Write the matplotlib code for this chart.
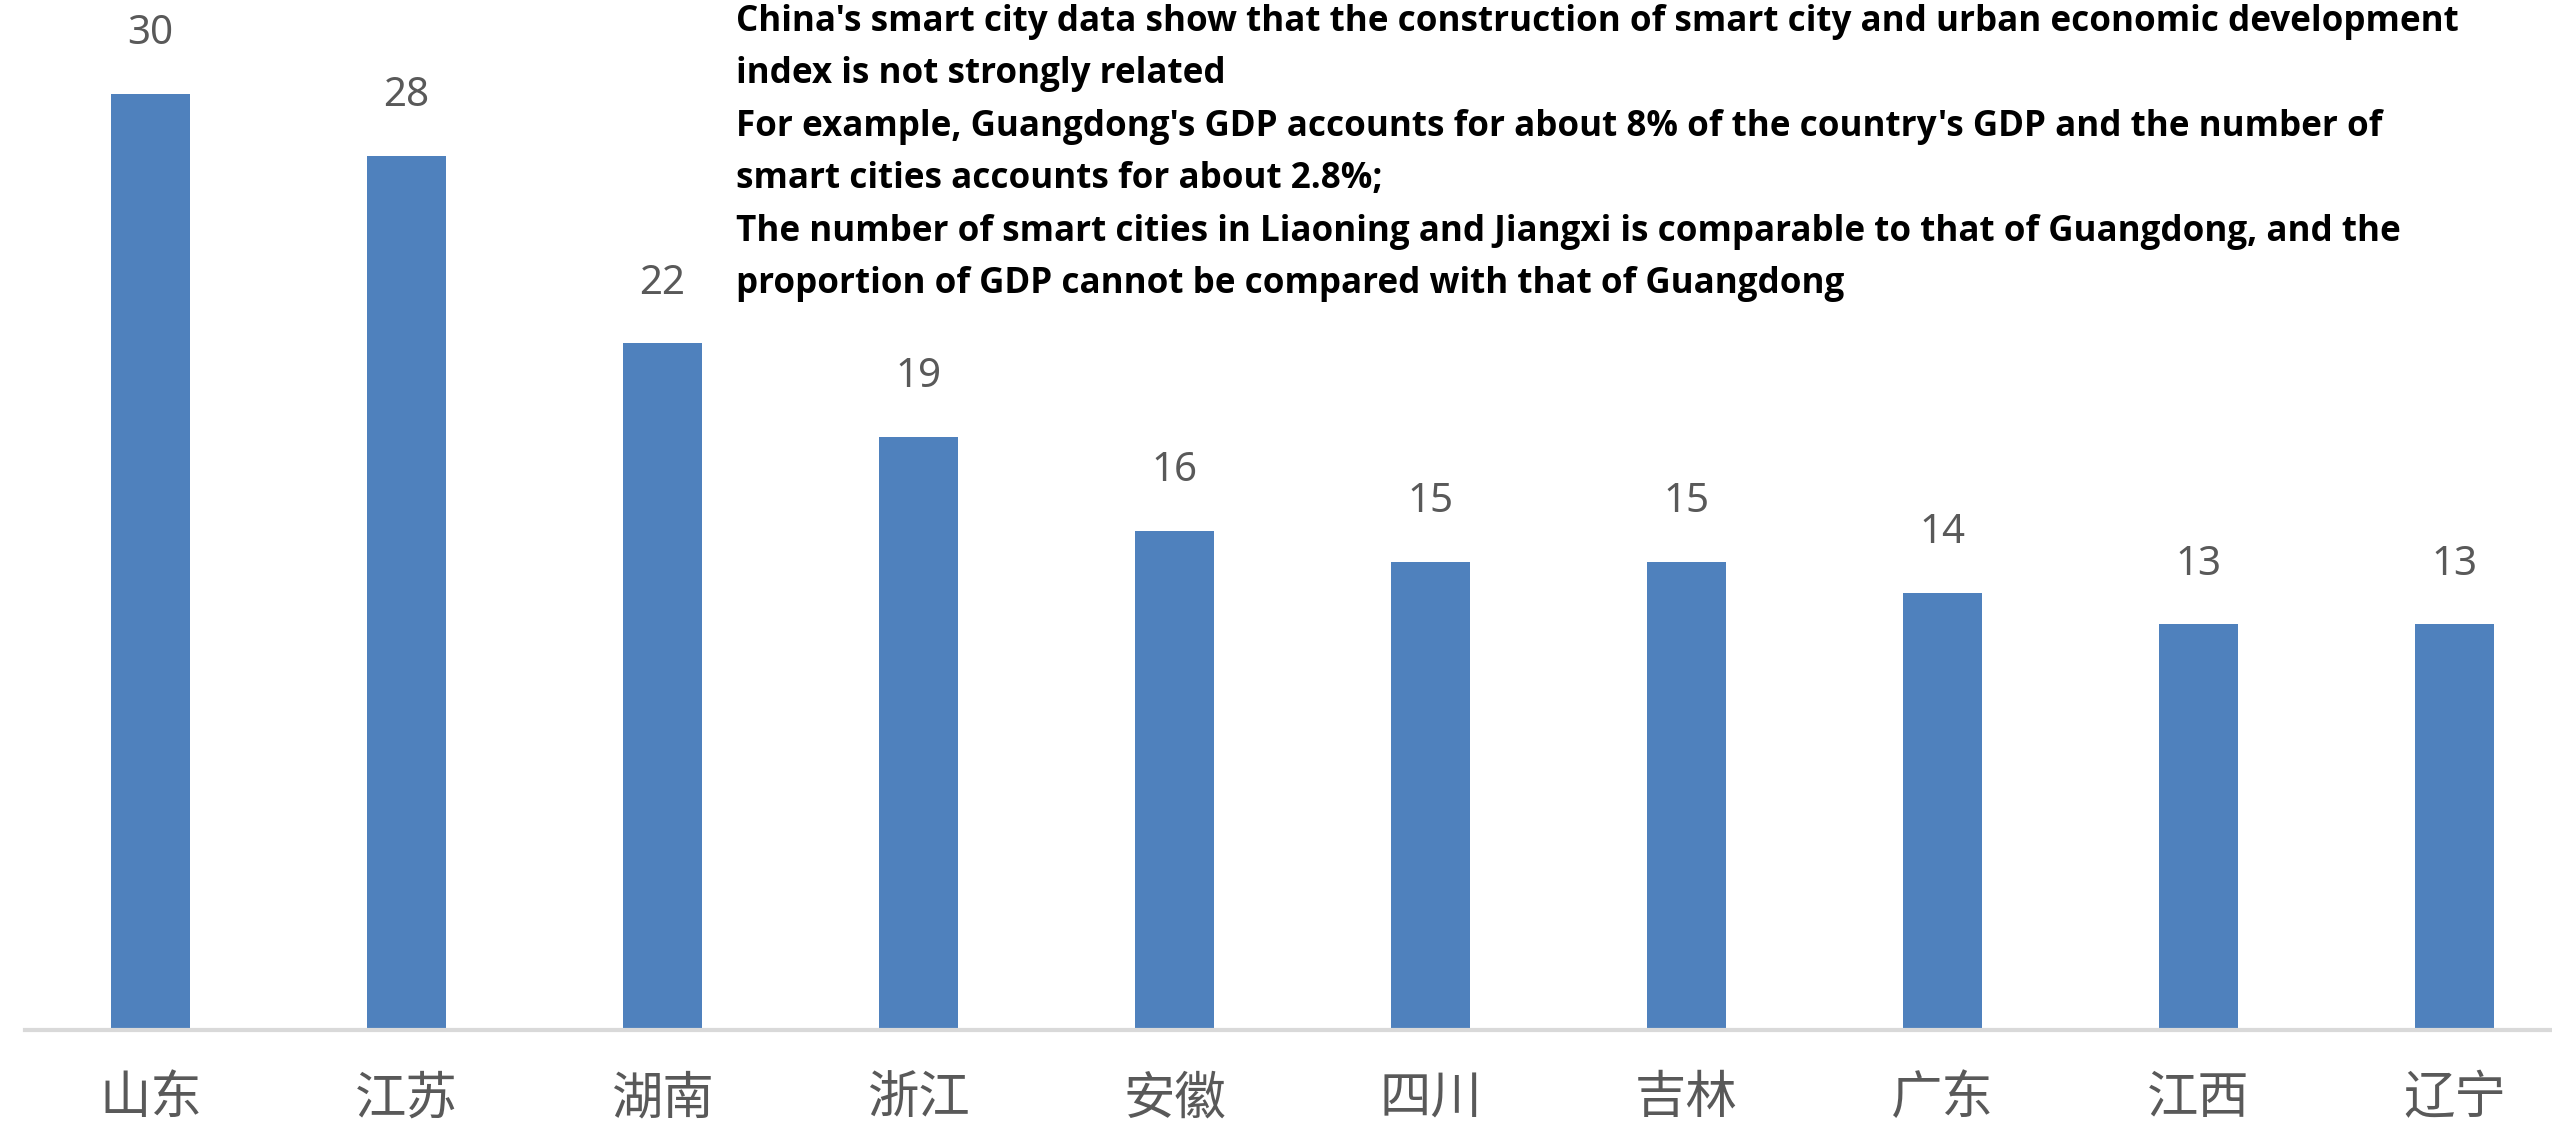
import matplotlib
matplotlib.use("Agg")
import matplotlib.pyplot as plt

provinces = ["山东", "江苏", "湖南", "浙江", "安徽", "四川", "吉林", "广东", "江西", "辽宁"]
counts = [30, 28, 22, 19, 16, 15, 15, 14, 13, 13]

note_lines = [
    "China's smart city data show that the construction of smart city and urban economic development",
    "index is not strongly related",
    "For example, Guangdong's GDP accounts for about 8% of the country's GDP and the number of",
    "smart cities accounts for about 2.8%;",
    "The number of smart cities in Liaoning and Jiangxi is comparable to that of Guangdong, and the",
    "proportion of GDP cannot be compared with that of Guangdong",
]

W, H = 2552, 1125
fig = plt.figure(figsize=(W / 100, H / 100), dpi=100)
ax = fig.add_axes([25 / W, 95 / H, (W - 25) / W, 1030 / H])

x = list(range(len(provinces)))
ax.bar(x, counts, width=0.31, color="#4f81bd", zorder=2)
ax.set_xlim(-0.49, 9.38)
ax.set_ylim(0, 33.0)

for xi, v in zip(x, counts):
    ax.annotate(str(v), (xi, v), xytext=(0, 43), textcoords="offset points",
                ha="center", va="center", fontsize=29, color="#595959",
                family="Noto Sans")

ax.set_xticks(x)
ax.set_xticklabels(provinces, family=["Noto Sans CJK SC", "DejaVu Sans"],
                   fontsize=37, color="#595959")
ax.tick_params(axis="x", length=0, pad=30)
ax.set_yticks([])
for s in ["top", "right", "left"]:
    ax.spines[s].set_visible(False)
ax.spines["bottom"].set_color("#d9d9d9")
ax.spines["bottom"].set_linewidth(3)

fig.text(736 / W, 1 - 4 / H, "\n".join(note_lines), ha="left", va="top",
         fontsize=25.2, fontweight="bold", family="Open Sans", color="black",
         linespacing=1.61)

fig.savefig("out.png", dpi=100)
